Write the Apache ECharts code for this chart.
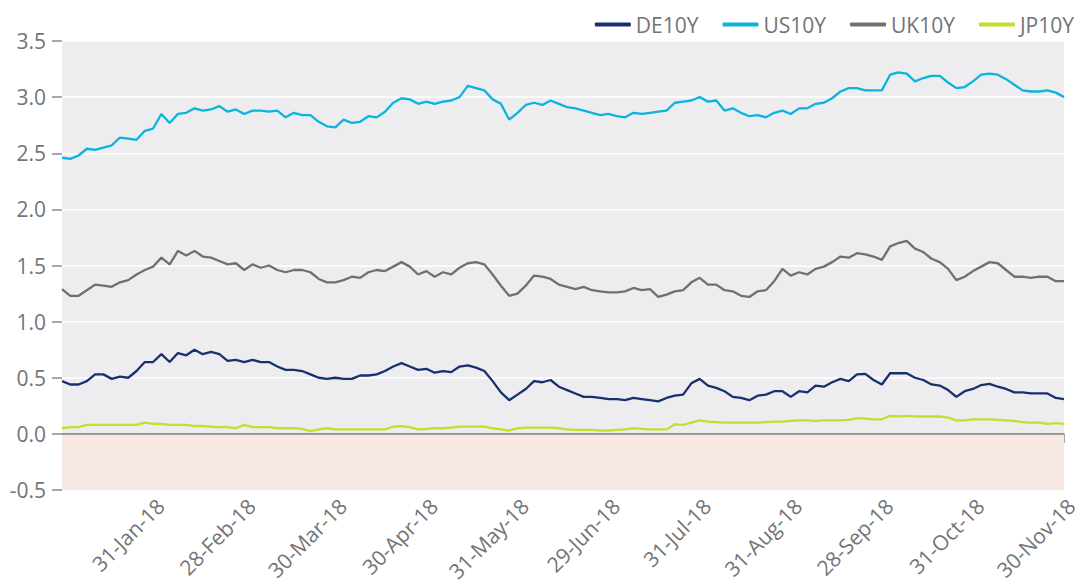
<!DOCTYPE html>
<html>
<head>
<meta charset="utf-8">
<script src="https://cdn.jsdelivr.net/npm/echarts@6/dist/echarts.min.js"></script>
<style>
  html, body { margin: 0; padding: 0; background: #ffffff; }
  #chart { width: 1081px; height: 586px; }
</style>
</head>
<body>
<div id="chart"></div>
<script>
// month-end tick labels (first entry is the start of the axis, not labelled)
var monthEnds = ['29-Dec-17', '31-Jan-18', '28-Feb-18', '30-Mar-18', '30-Apr-18', '31-May-18',
  '29-Jun-18', '31-Jul-18', '31-Aug-18', '28-Sep-18', '31-Oct-18', '30-Nov-18'];
var perMonth = 11;

var de10y = [0.47, 0.44, 0.44, 0.47, 0.53, 0.53, 0.49, 0.51, 0.50, 0.56, 0.64,
  0.64, 0.71, 0.64, 0.72, 0.70, 0.75, 0.71, 0.73, 0.71, 0.65, 0.66,
  0.64, 0.66, 0.64, 0.64, 0.60, 0.57, 0.57, 0.56, 0.53, 0.50, 0.49,
  0.50, 0.49, 0.49, 0.52, 0.52, 0.53, 0.56, 0.60, 0.63, 0.60, 0.57,
  0.58, 0.545, 0.56, 0.55, 0.60, 0.61, 0.59, 0.56, 0.47, 0.37, 0.30,
  0.35, 0.40, 0.47, 0.46, 0.48, 0.42, 0.39, 0.36, 0.33, 0.33, 0.32,
  0.31, 0.31, 0.30, 0.32, 0.31, 0.30, 0.29, 0.32, 0.34, 0.35, 0.45,
  0.49, 0.43, 0.41, 0.38, 0.33, 0.32, 0.30, 0.34, 0.35, 0.38, 0.38,
  0.33, 0.38, 0.37, 0.43, 0.42, 0.46, 0.49, 0.47, 0.53, 0.535, 0.48,
  0.44, 0.54, 0.54, 0.54, 0.50, 0.48, 0.44, 0.43, 0.39, 0.33, 0.38,
  0.40, 0.435, 0.445, 0.42, 0.40, 0.37, 0.37, 0.36, 0.36, 0.36, 0.32,
  0.31];

var us10y = [2.46, 2.45, 2.48, 2.54, 2.53, 2.55, 2.57, 2.64, 2.63, 2.62, 2.70,
  2.72, 2.85, 2.77, 2.85, 2.86, 2.90, 2.88, 2.89, 2.92, 2.87, 2.89,
  2.85, 2.88, 2.88, 2.87, 2.88, 2.82, 2.86, 2.84, 2.84, 2.78, 2.74,
  2.73, 2.80, 2.77, 2.78, 2.83, 2.82, 2.87, 2.95, 2.99, 2.98, 2.94,
  2.96, 2.94, 2.96, 2.97, 3.00, 3.10, 3.08, 3.06, 2.98, 2.94, 2.80,
  2.86, 2.93, 2.95, 2.93, 2.97, 2.94, 2.91, 2.90, 2.88, 2.86, 2.84,
  2.85, 2.83, 2.82, 2.86, 2.85, 2.86, 2.87, 2.88, 2.95, 2.96, 2.97,
  3.00, 2.96, 2.97, 2.88, 2.90, 2.86, 2.83, 2.84, 2.82, 2.86, 2.88,
  2.85, 2.90, 2.90, 2.94, 2.95, 2.99, 3.05, 3.08, 3.08, 3.06, 3.06,
  3.06, 3.20, 3.22, 3.21, 3.14, 3.17, 3.19, 3.19, 3.13, 3.08, 3.09,
  3.14, 3.20, 3.21, 3.20, 3.16, 3.11, 3.06, 3.05, 3.05, 3.06, 3.04,
  3.00];

var uk10y = [1.29, 1.23, 1.23, 1.28, 1.33, 1.32, 1.31, 1.35, 1.37, 1.42, 1.46,
  1.49, 1.57, 1.51, 1.63, 1.59, 1.63, 1.58, 1.57, 1.54, 1.51, 1.52,
  1.46, 1.51, 1.48, 1.50, 1.46, 1.44, 1.46, 1.46, 1.44, 1.38, 1.35,
  1.35, 1.37, 1.40, 1.39, 1.44, 1.46, 1.45, 1.49, 1.53, 1.49, 1.42,
  1.45, 1.40, 1.44, 1.42, 1.48, 1.52, 1.53, 1.51, 1.42, 1.32, 1.23,
  1.25, 1.32, 1.41, 1.40, 1.38, 1.33, 1.31, 1.29, 1.31, 1.28, 1.27,
  1.26, 1.26, 1.27, 1.30, 1.28, 1.29, 1.22, 1.24, 1.27, 1.28, 1.35,
  1.39, 1.33, 1.33, 1.28, 1.27, 1.23, 1.22, 1.27, 1.28, 1.36, 1.47,
  1.41, 1.44, 1.42, 1.47, 1.49, 1.53, 1.58, 1.57, 1.61, 1.60, 1.58,
  1.55, 1.67, 1.70, 1.72, 1.65, 1.62, 1.56, 1.53, 1.47, 1.37, 1.40,
  1.45, 1.49, 1.53, 1.52, 1.46, 1.40, 1.40, 1.39, 1.40, 1.40, 1.36,
  1.36];

var jp10y = [0.05, 0.06, 0.06, 0.08, 0.08, 0.08, 0.08, 0.08, 0.08, 0.08, 0.10,
  0.09, 0.09, 0.08, 0.08, 0.08, 0.07, 0.07, 0.065, 0.06, 0.06, 0.05,
  0.08, 0.06, 0.06, 0.06, 0.05, 0.05, 0.05, 0.045, 0.025, 0.04, 0.05,
  0.04, 0.04, 0.04, 0.04, 0.04, 0.04, 0.04, 0.065, 0.07, 0.06, 0.04,
  0.045, 0.05, 0.05, 0.055, 0.065, 0.065, 0.065, 0.065, 0.05, 0.04, 0.03,
  0.05, 0.055, 0.055, 0.055, 0.055, 0.05, 0.04, 0.035, 0.035, 0.035, 0.03,
  0.03, 0.035, 0.04, 0.05, 0.045, 0.04, 0.04, 0.04, 0.085, 0.08, 0.10,
  0.12, 0.11, 0.105, 0.10, 0.10, 0.10, 0.10, 0.10, 0.105, 0.11, 0.11,
  0.115, 0.12, 0.12, 0.115, 0.12, 0.12, 0.12, 0.125, 0.14, 0.135, 0.13,
  0.13, 0.16, 0.155, 0.16, 0.155, 0.155, 0.155, 0.155, 0.145, 0.12, 0.12,
  0.13, 0.13, 0.13, 0.125, 0.12, 0.115, 0.105, 0.10, 0.10, 0.09, 0.095,
  0.09];

var yTicks = { min: -0.5, max: 3.5, step: 0.5 };

var dates = [];
for (var i = 0; i < de10y.length; i++) {
  dates.push(i % perMonth === 0 ? monthEnds[i / perMonth] : '');
}

var grey = '#737477';
var fontFam = '"Open Sans", "Noto Sans", sans-serif';
function isMonthEnd(idx) { return idx > 0 && idx % perMonth === 0; }

var chart = echarts.init(document.getElementById('chart'), null, { renderer: 'svg' });
chart.setOption({
  animation: false,
  grid: {
    left: 62, right: 2, top: 41, bottom: 96,
    show: true, backgroundColor: '#ededf0', borderWidth: 0
  },
  legend: {
    right: 2, top: 9,
    itemWidth: 36, itemHeight: 4, itemGap: 24,
    icon: 'roundRect',
    textStyle: { color: grey, fontSize: 21, fontFamily: fontFam },
    data: ['DE10Y', 'US10Y', 'UK10Y', 'JP10Y']
  },
  xAxis: {
    type: 'category',
    data: dates,
    boundaryGap: false,
    axisLine: { lineStyle: { color: '#8a8a8c', width: 1.5 } },
    axisTick: { interval: isMonthEnd, length: 9, lineStyle: { color: '#8a8a8c', width: 1.5 } },
    axisLabel: {
      interval: isMonthEnd,
      rotate: 45,
      verticalAlign: 'top',
      color: grey,
      fontSize: 21,
      fontFamily: fontFam,
      margin: 5
    },
    splitLine: { show: false }
  },
  yAxis: {
    type: 'value',
    min: yTicks.min, max: yTicks.max, interval: yTicks.step,
    axisLine: { show: false },
    axisTick: { show: true, length: 10, lineStyle: { color: '#8a8a8c', width: 1.5 } },
    axisLabel: {
      color: grey, fontSize: 21, fontFamily: fontFam, margin: 16,
      formatter: function(v) { return v.toFixed(1); }
    },
    splitLine: { lineStyle: { color: '#ffffff', width: 1.5 } }
  },
  series: [
    {
      name: 'DE10Y', type: 'line', data: de10y, symbol: 'none',
      lineStyle: { color: '#17306e', width: 2.3 }, itemStyle: { color: '#17306e' },
      markArea: {
        silent: true,
        itemStyle: { color: '#f7e8e4' },
        data: [[{ yAxis: -0.5 }, { yAxis: 0 }]]
      },
      markLine: {
        silent: true, symbol: 'none', label: { show: false },
        lineStyle: { color: '#8a8a8c', width: 1.5, type: 'solid' },
        data: [{ yAxis: 0 }]
      }
    },
    {
      name: 'US10Y', type: 'line', data: us10y, symbol: 'none',
      lineStyle: { color: '#0bb3dd', width: 2.3 }, itemStyle: { color: '#0bb3dd' }
    },
    {
      name: 'UK10Y', type: 'line', data: uk10y, symbol: 'none',
      lineStyle: { color: '#707072', width: 2.3 }, itemStyle: { color: '#707072' }
    },
    {
      name: 'JP10Y', type: 'line', data: jp10y, symbol: 'none',
      lineStyle: { color: '#c8dc2c', width: 2.3 }, itemStyle: { color: '#c8dc2c' }
    }
  ]
});
window.addEventListener('resize', function() { chart.resize(); });
</script>
</body>
</html>
